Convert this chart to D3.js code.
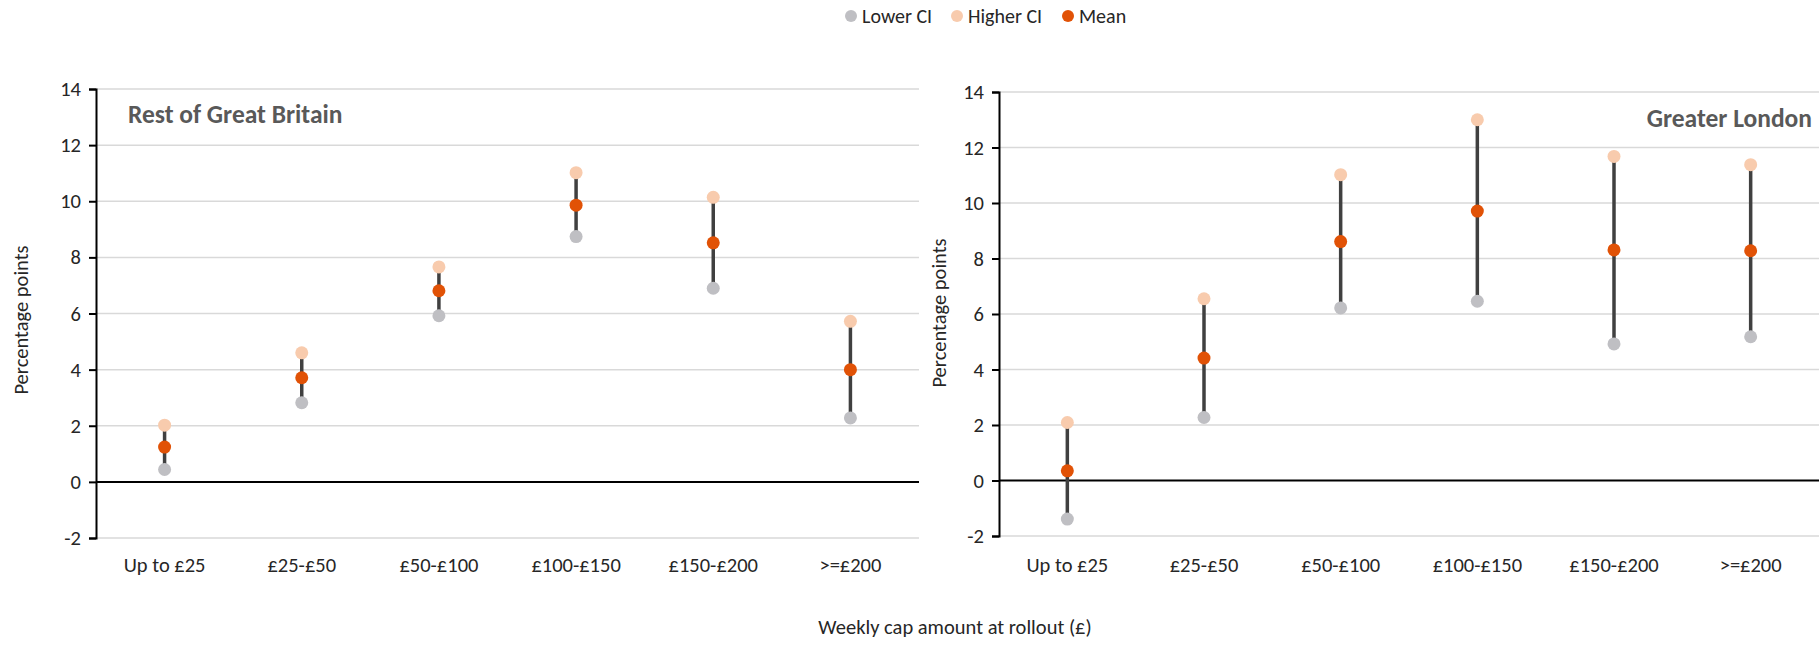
<!DOCTYPE html>
<html>
<head>
<meta charset="utf-8">
<script src="https://cdn.jsdelivr.net/npm/d3@7"></script>
<style>
  body { margin: 0; background: #fff; }
  svg text { font-family: Calibri, Carlito, Lato, "Open Sans", sans-serif; fill: #262626; }
  .grid line { stroke: #d9d9d9; stroke-width: 1.5; }
</style>
</head>
<body>
<div id="chart"></div>
<script>
// categories and values
var categories = ["Up to £25", "£25-£50", "£50-£100", "£100-£150", "£150-£200", ">=£200"];
var yTicks = [-2, 0, 2, 4, 6, 8, 10, 12, 14];

var gbLower  = [0.44, 2.82, 5.92, 8.74, 6.90, 2.28];
var gbHigher = [2.02, 4.60, 7.66, 11.02, 10.14, 5.72];
var gbMean   = [1.24, 3.71, 6.81, 9.86, 8.52, 4.00];

var ldnLower  = [-1.39, 2.27, 6.22, 6.46, 4.92, 5.18];
var ldnHigher = [2.09, 6.55, 11.02, 13.00, 11.68, 11.38];
var ldnMean   = [0.35, 4.41, 8.61, 9.71, 8.31, 8.28];

var colLower = "#bfbfc3", colHigher = "#f8cbad", colMean = "#e15206";
var fs = 20.5;

var svg = d3.select("#chart").append("svg")
	.attr("width", 1819).attr("height", 649);

// legend
var legendItems = [
	{name: "Lower CI", color: colLower, x: 851},
	{name: "Higher CI", color: colHigher, x: 957},
	{name: "Mean", color: colMean, x: 1068}
];
var legend = svg.append("g");
legend.selectAll("circle").data(legendItems).enter()
	.append("circle")
	.attr("cx", function (d) { return d.x; })
	.attr("cy", 16).attr("r", 6)
	.attr("fill", function (d) { return d.color; });
legend.selectAll("text").data(legendItems).enter()
	.append("text")
	.attr("x", function (d) { return d.x + 11; })
	.attr("y", 23)
	.attr("font-size", 20)
	.text(function (d) { return d.name; });

function drawPanel(opts) {
	var x = d3.scaleBand().domain(categories).range([opts.left, opts.right]).padding(0);
	var y = d3.scaleLinear().domain([-2, 14]).range([opts.bottom, opts.top]);
	var g = svg.append("g");

	// gridlines
	g.append("g").attr("class", "grid")
		.selectAll("line").data(yTicks.filter(function (t) { return t !== 0; }))
		.enter().append("line")
		.attr("x1", opts.left).attr("x2", opts.right)
		.attr("y1", function (d) { return y(d); })
		.attr("y2", function (d) { return y(d); });

	// zero line
	g.append("line")
		.attr("x1", opts.left).attr("x2", opts.right)
		.attr("y1", y(0)).attr("y2", y(0))
		.attr("stroke", "#000").attr("stroke-width", 2);

	// y axis (plain hyphen for negatives, like the original)
	var yAxis = d3.axisLeft(y).tickValues(yTicks).tickSize(7).tickPadding(8)
		.tickFormat(function (d) { return String(d); });
	var ya = g.append("g").attr("transform", "translate(" + opts.left + ",0)").call(yAxis);
	ya.select(".domain").attr("stroke", "#000").attr("stroke-width", 2);
	ya.selectAll(".tick line").attr("stroke", "#000").attr("stroke-width", 2);
	ya.selectAll(".tick text").attr("font-size", fs).attr("fill", "#262626")
		.style("font-family", "Calibri, Carlito, Lato, sans-serif");

	// category labels
	g.selectAll(".cat").data(categories).enter()
		.append("text").attr("class", "cat")
		.attr("x", function (d) { return x(d) + x.bandwidth() / 2; })
		.attr("y", 572)
		.attr("text-anchor", "middle")
		.attr("font-size", fs)
		.text(function (d) { return d; });

	// y axis title
	g.append("text")
		.attr("transform", "translate(" + opts.titleX + "," + opts.titleY + ") rotate(-90)")
		.attr("text-anchor", "middle")
		.attr("font-size", fs)
		.text("Percentage points");

	// panel title
	g.append("text")
		.attr("x", opts.labelX).attr("y", opts.labelY)
		.attr("text-anchor", opts.labelAnchor)
		.attr("font-size", 25.5)
		.attr("font-weight", "bold")
		.style("fill", "#595959")
		.text(opts.label);

	var rows = categories.map(function (c, i) {
		return {cat: c, lo: opts.lower[i], hi: opts.higher[i], mean: opts.mean[i]};
	});

	// CI lines
	g.selectAll(".ci").data(rows).enter()
		.append("line").attr("class", "ci")
		.attr("x1", function (d) { return x(d.cat) + x.bandwidth() / 2; })
		.attr("x2", function (d) { return x(d.cat) + x.bandwidth() / 2; })
		.attr("y1", function (d) { return y(d.lo); })
		.attr("y2", function (d) { return y(d.hi); })
		.attr("stroke", "#404040").attr("stroke-width", 3.5);

	var series = [
		{key: "lo", color: colLower},
		{key: "hi", color: colHigher},
		{key: "mean", color: colMean}
	];
	series.forEach(function (s) {
		g.selectAll(".pt-" + s.key).data(rows).enter()
			.append("circle").attr("class", "pt-" + s.key)
			.attr("cx", function (d) { return x(d.cat) + x.bandwidth() / 2; })
			.attr("cy", function (d) { return y(d[s.key]); })
			.attr("r", 6.5)
			.attr("fill", s.color);
	});
}

drawPanel({
	left: 96, right: 919, top: 89, bottom: 538,
	lower: gbLower, higher: gbHigher, mean: gbMean,
	label: "Rest of Great Britain", labelX: 128, labelY: 123, labelAnchor: "start",
	titleX: 28, titleY: 320
});

drawPanel({
	left: 999, right: 1819, top: 92, bottom: 536,
	lower: ldnLower, higher: ldnHigher, mean: ldnMean,
	label: "Greater London", labelX: 1812, labelY: 127, labelAnchor: "end",
	titleX: 946, titleY: 313
});

// shared x axis title
svg.append("text")
	.attr("x", 955).attr("y", 634)
	.attr("text-anchor", "middle")
	.attr("font-size", fs)
	.text("Weekly cap amount at rollout (£)");
</script>
</body>
</html>
